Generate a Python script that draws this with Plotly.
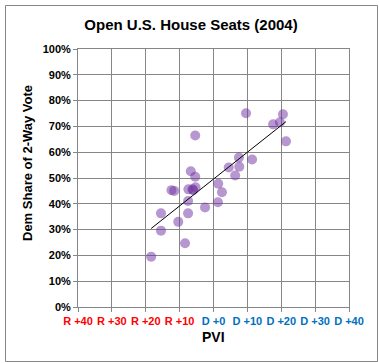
import numpy as np
import plotly.graph_objects as go

# PVI (negative = Republican lean, positive = Democratic lean)
pvi = [-18.4, -15.5, -15.5, -10.4, -12.4, -11.6, -8.4, -7.5, -7.5, -7.4,
       -6.2, -5.3, -6.0, -6.7, -5.4, -5.4, -2.5, 1.3, 1.4, 2.5,
       4.5, 7.6, 6.4, 7.5, 11.4, 9.6, 17.6, 19.6, 20.5, 21.4]
# Democratic share of the two-party vote (%)
dem_share = [19.5, 29.6, 36.3, 33.0, 45.3, 45.0, 24.7, 36.3, 41.1, 45.6,
             45.6, 46.4, 45.3, 52.6, 50.5, 66.5, 38.6, 40.6, 47.8, 44.5,
             54.1, 54.4, 51.0, 57.9, 57.2, 75.1, 70.8, 71.6, 74.7, 64.2]

x_tick_vals = [-40, -30, -20, -10, 0, 10, 20, 30, 40]
x_tick_labels = ["R +40", "R +30", "R +20", "R +10", "D +0", "D +10", "D +20", "D +30", "D +40"]
y_tick_vals = [0, 10, 20, 30, 40, 50, 60, 70, 80, 90, 100]
y_tick_labels = ["0%", "10%", "20%", "30%", "40%", "50%", "60%", "70%", "80%", "90%", "100%"]

RED = "#FF0000"
BLUE = "#0070C0"
x_tick_text = [
    f"<b><span style='color:{RED if lab.startswith('R') else BLUE}'>{lab}</span></b>"
    for lab in x_tick_labels
]
y_tick_text = [f"<b>{lab}</b>" for lab in y_tick_labels]

# Linear trendline (least squares) across the data's x-range
slope, intercept = np.polyfit(pvi, dem_share, 1)
tx = np.array([min(pvi), max(pvi)])
ty = slope * tx + intercept

fig = go.Figure()
fig.add_trace(go.Scatter(
    x=pvi, y=dem_share, mode="markers",
    marker=dict(color="#7030A0", opacity=0.5, size=10, line=dict(width=0)),
    showlegend=False, hoverinfo="x+y",
))
fig.add_trace(go.Scatter(
    x=tx, y=ty, mode="lines",
    line=dict(color="#000000", width=1),
    showlegend=False, hoverinfo="skip",
))

FONT = "Liberation Sans, Arial, sans-serif"
GRID = "#868686"
L, R, T, B = 78, 30, 49, 56
PW, PH = 379 - L - R, 363 - T - B

fig.update_layout(
    width=379, height=363,
    margin=dict(l=L, r=R, t=T, b=B, autoexpand=False),
    paper_bgcolor="white", plot_bgcolor="white",
    font=dict(family=FONT, color="#000000"),
    title=dict(text="<b>Open U.S. House Seats (2004)</b>",
               font=dict(size=15, family=FONT, color="#000000"),
               x=(191 / 379), xanchor="center", y=1 - 25 / 363, yanchor="middle"),
    xaxis=dict(
        range=[-40, 40], tickvals=x_tick_vals, ticktext=x_tick_text,
        showgrid=True, gridcolor=GRID, gridwidth=1,
        showline=True, linecolor=GRID, linewidth=1, mirror=True,
        ticks="outside", ticklen=4, tickcolor=GRID,
        tickfont=dict(size=11, family=FONT),
        automargin=False, zeroline=False, fixedrange=True,
    ),
    yaxis=dict(
        range=[0, 100], tickvals=y_tick_vals, ticktext=y_tick_text,
        showgrid=True, gridcolor=GRID, gridwidth=1,
        showline=True, linecolor=GRID, linewidth=1, mirror=True,
        ticks="outside", ticklen=4, tickcolor=GRID,
        tickfont=dict(size=11, family=FONT),
        automargin=False, zeroline=False, fixedrange=True,
    ),
    annotations=[
        dict(text="<b>PVI</b>", xref="paper", yref="paper",
             x=(213 - L) / PW, y=(307 - 337) / PH, xanchor="center", yanchor="middle",
             showarrow=False, font=dict(size=14, family=FONT, color="#000000")),
        dict(text="<b>Dem Share of 2-Way Vote</b>", xref="paper", yref="paper",
             x=(27 - L) / PW, y=(307 - 163) / PH, xanchor="center", yanchor="middle",
             textangle=-90, showarrow=False, font=dict(size=13, family=FONT, color="#000000")),
    ],
    shapes=[dict(
        type="rect", xref="paper", yref="paper",
        x0=(5.5 - L) / PW, x1=(377.5 - L) / PW,
        y0=(307 - 361.5) / PH, y1=(307 - 5.5) / PH,
        line=dict(color="#868686", width=1), fillcolor="rgba(0,0,0,0)", layer="below",
    )],
)

fig.write_html(
    "out.html",
    config={"displayModeBar": False},
    post_script="document.body.style.margin='0';document.body.style.overflow='hidden';",
)
